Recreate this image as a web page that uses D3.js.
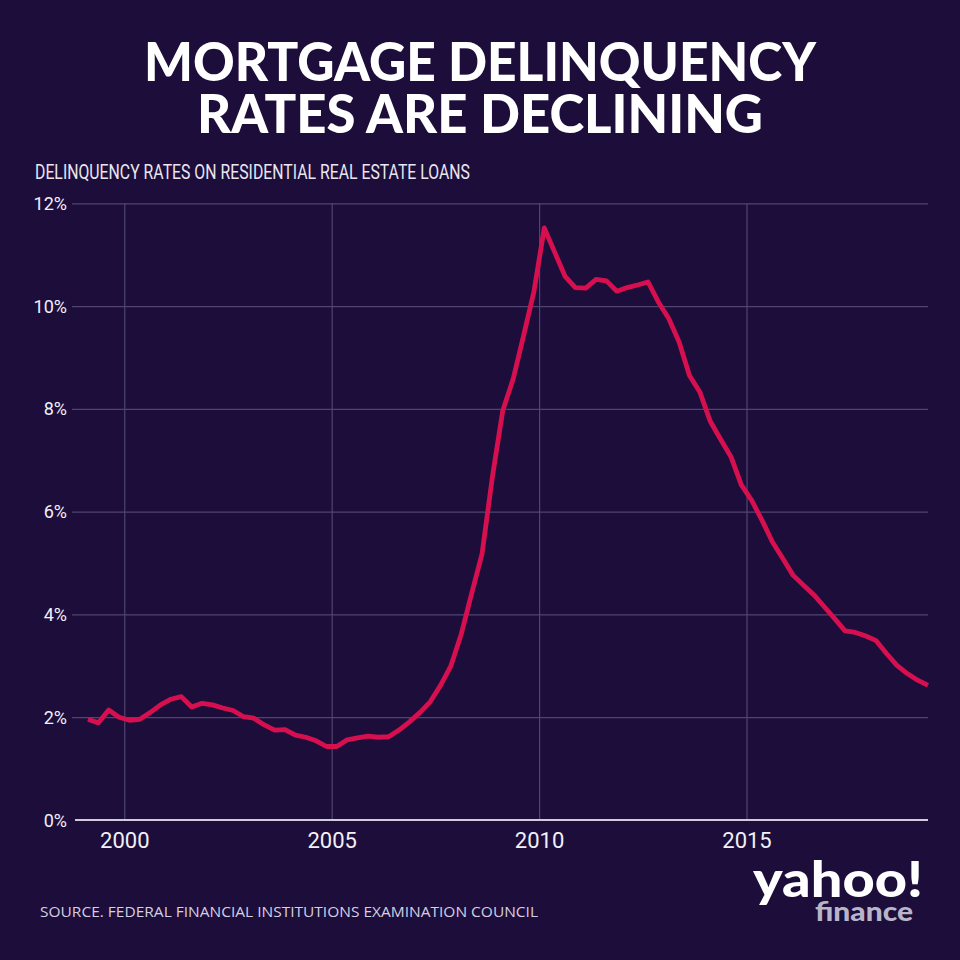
<!DOCTYPE html>
<html>
<head>
<meta charset="utf-8">
<script src="https://cdn.jsdelivr.net/npm/d3@7"></script>
<style>
  html, body { margin: 0; padding: 0; background: #1d0d3b; }
  svg { display: block; }
</style>
</head>
<body>
<svg id="chart" width="960" height="960"></svg>
<script>
// ---- Data ----
const title = ["MORTGAGE DELINQUENCY", "RATES ARE DECLINING"];
const subtitle = "DELINQUENCY RATES ON RESIDENTIAL REAL ESTATE LOANS";
const source = "SOURCE. FEDERAL FINANCIAL INSTITUTIONS EXAMINATION COUNCIL";

const startYear = 1999; // first quarter: 1999 Q1
const rates = [
  1.96, 1.89, 2.14, 2.00,   // 1999
  1.94, 1.96, 2.09, 2.24,   // 2000
  2.35, 2.40, 2.20, 2.27,   // 2001
  2.24, 2.18, 2.13, 2.01,   // 2002
  1.98, 1.85, 1.75, 1.76,   // 2003
  1.65, 1.61, 1.54, 1.43,   // 2004
  1.43, 1.56, 1.60, 1.63,   // 2005
  1.61, 1.62, 1.75, 1.91,   // 2006
  2.09, 2.30, 2.62, 3.00,   // 2007
  3.62, 4.41, 5.18, 6.68,   // 2008
  7.97, 8.58, 9.42, 10.28,  // 2009
  11.52, 11.05, 10.58, 10.36, // 2010
  10.35, 10.52, 10.49, 10.29, // 2011
  10.36, 10.41, 10.47, 10.08, // 2012
  9.76, 9.30, 8.65, 8.33,   // 2013
  7.76, 7.41, 7.07, 6.52,   // 2014
  6.22, 5.83, 5.41, 5.09,   // 2015
  4.76, 4.57, 4.38, 4.15,   // 2016
  3.92, 3.68, 3.65, 3.58,   // 2017
  3.49, 3.24, 3.01, 2.85,   // 2018
  2.72, 2.62                // 2019
];
const quarters = rates.map((_, i) => {
  const yr = startYear + Math.floor(i / 4);
  return yr + "Q" + (i % 4 + 1);
});
const xTicks = [2000, 2005, 2010, 2015];
const yTicks = [0, 2, 4, 6, 8, 10, 12];

const data = quarters.map((q, i) => ({
  t: +q.slice(0, 4) + (+q.slice(5) - 0.5) / 4,
  v: rates[i]
}));

// ---- Layout ----
const svg = d3.select("#chart");
svg.append("rect").attr("width", 960).attr("height", 960).attr("fill", "#1d0d3b");

const pLeft = 72, pRight = 928, pTop = 203.3, pBottom = 820;
const x = d3.scaleLinear().domain([1998.74, 2019.375]).range([pLeft, pRight]);
const y = d3.scaleLinear().domain([0, 12]).range([pBottom, pTop]);

// Title (one text element, two lines)
const tt = svg.append("text")
  .attr("text-anchor", "middle")
  .attr("font-family", "Lato, 'Open Sans', sans-serif").attr("font-weight", 900)
  .attr("font-size", 53).attr("fill", "#ffffff");
tt.append("tspan").attr("x", 480).attr("y", 81)
  .attr("textLength", 672).attr("lengthAdjust", "spacingAndGlyphs")
  .text(title[0]);
tt.append("tspan").attr("x", 480).attr("y", 133)
  .attr("textLength", 566).attr("lengthAdjust", "spacingAndGlyphs")
  .text(title[1]);

// Subtitle
svg.append("text").attr("x", 35).attr("y", 179.3)
  .attr("font-family", "Roboto, sans-serif").attr("font-size", 19.5)
  .attr("fill", "#e8e6ef")
  .attr("textLength", 435).attr("lengthAdjust", "spacingAndGlyphs")
  .text(subtitle);

// Y gridlines + labels
const gy = svg.append("g").attr("transform", `translate(${pLeft},0)`)
  .call(d3.axisLeft(y).tickValues(yTicks).tickSize(-(pRight - pLeft)).tickPadding(5)
    .tickFormat(d => d + "%"));
gy.select(".domain").remove();
gy.selectAll(".tick line").attr("stroke", "#4f4570").attr("stroke-width", 1.2)
  .filter(d => d === 0).remove();
gy.selectAll(".tick text").attr("fill", "#f2f0f7")
  .attr("font-family", "Roboto, sans-serif").attr("font-size", 18)
  .attr("dy", "0.34em");

// X gridlines + labels
const gx = svg.append("g").attr("transform", `translate(0,${pBottom})`)
  .call(d3.axisBottom(x).tickValues(xTicks).tickSize(-(pBottom - pTop)).tickPadding(12)
    .tickFormat(d3.format("d")));
gx.select(".domain").remove();
gx.selectAll(".tick line").attr("stroke", "#4f4570").attr("stroke-width", 1.2);
gx.selectAll(".tick text").attr("fill", "#f2f0f7")
  .attr("font-family", "Roboto, sans-serif").attr("font-size", 22)
  .attr("dy", "0.71em");

// Baseline
svg.append("line").attr("x1", 75).attr("x2", pRight)
  .attr("y1", y(0)).attr("y2", y(0))
  .attr("stroke", "#cfcbdc").attr("stroke-width", 2);

// Line
const line = d3.line().x(d => x(d.t)).y(d => y(d.v));
svg.append("path").datum(data)
  .attr("d", line)
  .attr("fill", "none")
  .attr("stroke", "#d6104f")
  .attr("stroke-width", 4.8)
  .attr("stroke-linejoin", "round")
  .attr("stroke-linecap", "butt");

// Source
svg.append("text").attr("x", 40).attr("y", 916.5)
  .attr("font-family", "'Open Sans', sans-serif").attr("font-size", 15)
  .attr("fill", "#d4d0e0")
  .attr("textLength", 498).attr("lengthAdjust", "spacingAndGlyphs")
  .text(source);

// Logo (one text element, two lines)
const logo = svg.append("text")
  .attr("font-family", "Lato, sans-serif").attr("font-weight", 900);
logo.append("tspan").attr("x", 753).attr("y", 897)
  .attr("font-size", 50).attr("fill", "#ffffff")
  .attr("textLength", 170).attr("lengthAdjust", "spacingAndGlyphs")
  .text("yahoo!");
logo.append("tspan").attr("x", 815).attr("y", 921)
  .attr("font-size", 27).attr("fill", "#b9b5c9")
  .attr("textLength", 98).attr("lengthAdjust", "spacingAndGlyphs")
  .text("finance");
</script>
</body>
</html>
